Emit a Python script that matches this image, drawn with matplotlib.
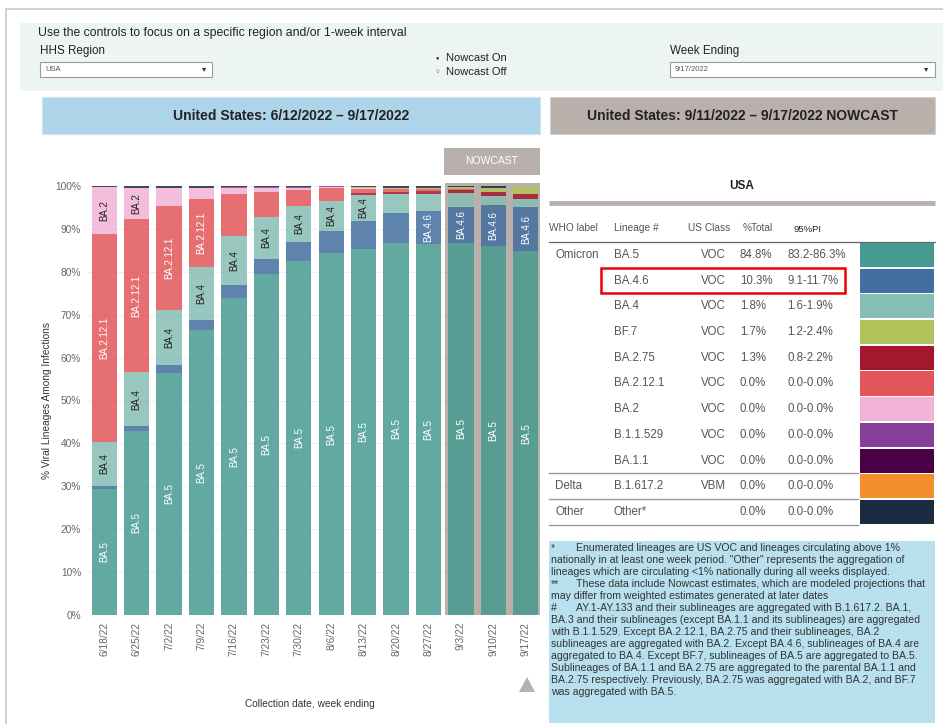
import numpy as np
import matplotlib.pyplot as plt
from matplotlib.patches import Rectangle, Polygon

plt.rcParams['font.family'] = ['Liberation Sans', 'DejaVu Sans']

W, H = 943, 724

# weekly proportions (%), stacked bottom -> top
weeks = ["6/18/22", "6/25/22", "7/2/22", "7/9/22", "7/16/22", "7/23/22", "7/30/22",
         "8/6/22", "8/13/22", "8/20/22", "8/27/22", "9/3/22", "9/10/22", "9/17/22"]
n_nowcast = 3

stack_names = ["BA.5", "BA.4.6", "BA.4", "BA.2.75", "BA.2.12.1", "BA.2", "BF.7",
               "B.1.1.529", "BA.1.1", "B.1.617.2", "Other"]
ba5 = [29.4, 43.0, 56.4, 66.5, 73.9, 79.4, 82.6, 84.3, 85.4, 86.8, 86.4, 86.8, 86.0, 84.8]
ba46 = [0.6, 1.0, 1.8, 2.2, 3.0, 3.7, 4.4, 5.2, 6.4, 7.0, 7.8, 8.4, 9.6, 10.3]
ba4 = [10.4, 12.6, 13.0, 12.4, 11.5, 9.7, 8.3, 7.0, 6.2, 4.3, 3.9, 3.1, 2.0, 1.8]
ba275 = [0, 0, 0, 0, 0, 0, 0, 0, 0.3, 0.4, 0.7, 0.8, 1.0, 1.3]
ba2121 = [48.5, 35.8, 24.1, 15.9, 9.7, 5.9, 3.8, 3.0, 1.1, 0.8, 0.4, 0.1, 0.0, 0.0]
ba2 = [10.8, 7.2, 4.3, 2.6, 1.4, 0.8, 0.4, 0.2, 0.1, 0, 0, 0, 0, 0]
bf7 = [0, 0, 0, 0, 0, 0, 0, 0, 0.2, 0.3, 0.4, 0.6, 1.0, 1.7]
b11529 = [0, 0, 0, 0, 0.3, 0.2, 0.3, 0.2, 0, 0, 0, 0, 0, 0]
ba11 = [0] * 14
delta = [0] * 14
other = [0.3, 0.4, 0.4, 0.4, 0.2, 0.3, 0.2, 0.1, 0.3, 0.4, 0.4, 0.2, 0.4, 0.1]
stack_vals = [ba5, ba46, ba4, ba275, ba2121, ba2, bf7, b11529, ba11, delta, other]

colors = {"BA.5": "#479a91", "BA.4.6": "#426f9f", "BA.4": "#86bdb4", "BF.7": "#b1c25a",
          "BA.2.75": "#a4172f", "BA.2.12.1": "#e15658", "BA.2": "#f2b3d6",
          "B.1.1.529": "#863f98", "BA.1.1": "#4a0044", "B.1.617.2": "#f28e2b",
          "Other": "#1b2b40"}
dark_text = {"BA.4", "BA.2", "BF.7", "B.1.617.2"}

# nowcast table
who_label = ["Omicron", "", "", "", "", "", "", "", "", "Delta", "Other"]
tab_lineage = ["BA.5", "BA.4.6", "BA.4", "BF.7", "BA.2.75", "BA.2.12.1", "BA.2",
               "B.1.1.529", "BA.1.1", "B.1.617.2", "Other*"]
us_class = ["VOC"] * 9 + ["VBM", ""]
pct_total = ["84.8%", "10.3%", "1.8%", "1.7%", "1.3%", "0.0%", "0.0%", "0.0%", "0.0%", "0.0%", "0.0%"]
pi95 = ["83.2-86.3%", "9.1-11.7%", "1.6-1.9%", "1.2-2.4%", "0.8-2.2%", "0.0-0.0%",
        "0.0-0.0%", "0.0-0.0%", "0.0-0.0%", "0.0-0.0%", "0.0-0.0%"]
swatch_keys = ["BA.5", "BA.4.6", "BA.4", "BF.7", "BA.2.75", "BA.2.12.1", "BA.2",
               "B.1.1.529", "BA.1.1", "B.1.617.2", "Other"]

notes = [
    ("*", "Enumerated lineages are US VOC and lineages circulating above 1%"),
    ("", "nationally in at least one week period. \"Other\" represents the aggregation of"),
    ("", "lineages which are circulating <1% nationally during all weeks displayed."),
    ("**", "These data include Nowcast estimates, which are modeled projections that"),
    ("", "may differ from weighted estimates generated at later dates"),
    ("#", "AY.1-AY.133 and their sublineages are aggregated with B.1.617.2. BA.1,"),
    ("", "BA.3 and their sublineages (except BA.1.1 and its sublineages) are aggregated"),
    ("", "with B.1.1.529. Except BA.2.12.1, BA.2.75 and their sublineages, BA.2"),
    ("", "sublineages are aggregated with BA.2. Except BA.4.6, sublineages of BA.4 are"),
    ("", "aggregated to BA.4. Except BF.7, sublineages of BA.5 are aggregated to BA.5."),
    ("", "Sublineages of BA.1.1 and BA.2.75 are aggregated to the parental BA.1.1 and"),
    ("", "BA.2.75 respectively. Previously, BA.2.75 was aggregated with BA.2, and BF.7"),
    ("", "was aggregated with BA.5."),
]

fig = plt.figure(figsize=(W / 100, H / 100), dpi=100)

# background canvas in pixel coords
bg = fig.add_axes([0, 0, 1, 1], zorder=0)
bg.set_xlim(0, W)
bg.set_ylim(H, 0)
bg.axis('off')

def rect(x0, y0, x1, y1, **kw):
    bg.add_patch(Rectangle((x0, y0), x1 - x0, y1 - y0, **kw))

rect(6, 9, W + 5, H + 5, facecolor='white', edgecolor='#c8c8c8', lw=1.2)
# controls panel
rect(20, 23, W, 91, facecolor='#edf5f3', edgecolor='none')
bg.text(38, 33, "Use the controls to focus on a specific region and/or 1-week interval",
        fontsize=8.85, va='center', color='#222222')
bg.text(40, 51, "HHS Region", fontsize=8.4, va='center', color='#222222')
rect(40, 62, 212, 77, facecolor='white', edgecolor='#9a9a9a', lw=0.8)
bg.text(45, 69.5, "USA", fontsize=5.5, va='center', color='#555555')
bg.text(204, 69.5, "▾", fontsize=6, va='center', ha='center', color='#333333')
bg.text(437, 58, "●", fontsize=4, va='center', ha='center', color='#222222')
bg.text(446, 58, "Nowcast On", fontsize=8, va='center', color='#222222')
bg.text(437, 72, "○", fontsize=4.5, va='center', ha='center', color='#555555')
bg.text(446, 72, "Nowcast Off", fontsize=8, va='center', color='#222222')
bg.text(670, 51, "Week Ending", fontsize=8.4, va='center', color='#222222')
rect(670, 62, 935, 77, facecolor='white', edgecolor='#9a9a9a', lw=0.8)
bg.text(675, 69.5, "9/17/2022", fontsize=5.5, va='center', color='#555555')
bg.text(926, 69.5, "▾", fontsize=6, va='center', ha='center', color='#333333')

# title bars
rect(42, 97, 540, 134, facecolor='#aed4ea', edgecolor='#cfe3ee', lw=0.8)
bg.text(291, 115.5, "United States: 6/12/2022 \u2013 9/17/2022", fontsize=10,
        fontweight='bold', ha='center', va='center', color='#222222')
rect(550, 97, 935, 134, facecolor='#b9b0ab', edgecolor='#d6d0cc', lw=0.8)
bg.text(742, 115.5, "United States: 9/11/2022 \u2013 9/17/2022 NOWCAST", fontsize=10,
        fontweight='bold', ha='center', va='center', color='#222222')

# nowcast marker box
rect(444, 148, 540, 175, facecolor='#b9b0ab', edgecolor='none')
bg.text(492, 161, "NOWCAST", fontsize=7.5, ha='center', va='center', color='white')
bg.add_patch(Polygon([(519, 692), (535, 692), (527, 677)], closed=True,
                     facecolor='#b9b0ab', edgecolor='none'))

# stacked bar chart
ax = fig.add_axes([88 / W, 1 - 615 / H, 454 / W, 429 / H], zorder=1)
ax.set_facecolor('none')
x = np.arange(len(weeks))
ax.axvspan(len(weeks) - n_nowcast - 0.49, len(weeks) - 0.55, ymin=0, ymax=1.008,
           facecolor='#b9b0ab', edgecolor='none', zorder=1, clip_on=False)
bottom = np.zeros(len(weeks))
for name, vals in zip(stack_names, stack_vals):
    vals = np.array(vals, dtype=float)
    ax.bar(x, vals, width=0.78, bottom=bottom, color=colors[name], alpha=0.85,
           edgecolor='none', zorder=2)
    need = 1.25 * len(name)
    for i in range(len(weeks)):
        if vals[i] >= need:
            ax.text(x[i], bottom[i] + vals[i] / 2, name, rotation=90, ha='center',
                    va='center', fontsize=7,
                    color='#222222' if name in dark_text else 'white', zorder=3)
    bottom += vals

ax.set_xlim(-0.5, len(weeks) - 0.5)
ax.set_ylim(0, 100)
ax.set_yticks(np.arange(0, 101, 10))
ax.set_yticklabels([f"{v}%" for v in range(0, 101, 10)])
ax.set_xticks(x)
ax.set_xticklabels(weeks, rotation=90)
ax.tick_params(axis='both', length=0, labelsize=7.3, labelcolor='#666666', pad=5)
ax.grid(axis='y', color='#f0f0f0', lw=0.8, zorder=0)
ax.set_axisbelow(True)
for s in ax.spines.values():
    s.set_visible(False)
ax.set_ylabel("% Viral Lineages Among Infections", fontsize=7.3, color='#333333', labelpad=2)
bg.text(310, 704, "Collection date, week ending", fontsize=7.3, ha='center',
        va='center', color='#333333')

# nowcast table
bg.text(742, 186, "USA", fontsize=8.5, fontweight='bold', ha='center', va='center', color='#222222')
bg.plot([549, 935], [203, 203], color='#b9b0ab', lw=3.5, solid_capstyle='butt')
hdr_y = 228
bg.text(549, hdr_y, "WHO label", fontsize=7.3, va='center', color='#555555')
bg.text(614, hdr_y, "Lineage #", fontsize=7.3, va='center', color='#555555')
bg.text(688, hdr_y, "US Class", fontsize=7.3, va='center', color='#555555')
bg.text(743, hdr_y, "%Total", fontsize=7.3, va='center', color='#555555')
bg.text(793, hdr_y + 1, "95%PI", fontsize=6.8, va='center', color='#222222')
bg.plot([549, 935], [242, 242], color='#666666', lw=0.9)

row0, dy = 255, 25.7
for i in range(len(tab_lineage)):
    y = row0 + dy * i
    bg.text(555, y, who_label[i], fontsize=8.3, va='center', color='#555555')
    bg.text(614, y, tab_lineage[i], fontsize=8.3, va='center', color='#555555')
    bg.text(726, y, us_class[i], fontsize=8.3, va='center', ha='right', color='#555555')
    bg.text(740, y, pct_total[i], fontsize=8.3, va='center', color='#555555')
    bg.text(787, y, pi95[i], fontsize=8.3, va='center', color='#555555')
    rect(860, y - dy / 2 + 0.8, 934, y + dy / 2 - 0.8,
         facecolor=colors[swatch_keys[i]], edgecolor='none')
for i in (8, 9, 10):
    y = row0 + dy * i + dy / 2
    bg.plot([549, 858], [y, y], color='#9a9a9a', lw=1.0)

# highlight box around BA.4.6
bg.add_patch(Rectangle((601, row0 + dy - 12.5), 244, 25, facecolor='none',
                       edgecolor='#ee0000', lw=1.8))

# footnotes
rect(549, 541, 935, 723, facecolor='#b8e0ef', edgecolor='none')
for i, (mark, line) in enumerate(notes):
    y = 548 + 12 * i
    if mark:
        bg.text(551, y, mark, fontsize=7.6, va='center', color='#333333')
        bg.text(576, y, line, fontsize=7.6, va='center', color='#333333')
    else:
        bg.text(551, y, line, fontsize=7.6, va='center', color='#333333')

fig.savefig("out.png", dpi=100)
